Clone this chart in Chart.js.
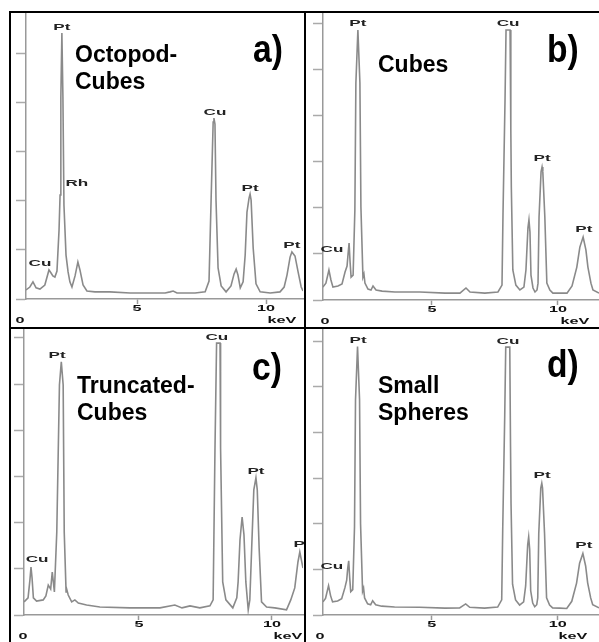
<!DOCTYPE html>
<html>
<head>
<meta charset="utf-8">
<script src="https://cdn.jsdelivr.net/npm/chart.js@4.4.1/dist/chart.umd.min.js"></script>
<style>
  body { margin: 0; background: #fff; width: 599px; height: 642px; position: relative; overflow: hidden; }
  canvas { position: absolute; }
  .rule { position: absolute; background: #000; }
</style>
</head>
<body>
<div class="rule" style="left:9px;top:11px;width:590px;height:2px"></div>
<div class="rule" style="left:9px;top:11px;width:2px;height:631px"></div>
<div class="rule" style="left:304px;top:11px;width:2px;height:631px"></div>
<div class="rule" style="left:9px;top:327px;width:590px;height:2px"></div>
<canvas id="chartA" width="293" height="314" style="left:11px;top:13px"></canvas>
<canvas id="chartB" width="293" height="314" style="left:306px;top:13px"></canvas>
<canvas id="chartC" width="293" height="313" style="left:11px;top:329px"></canvas>
<canvas id="chartD" width="293" height="313" style="left:306px;top:329px"></canvas>
<script>
// spectra: energy in keV, counts in arbitrary units (0-100 = axis height)
const energyA = [0.70,0.85,0.97,1.09,1.24,1.43,1.59,1.67,1.74,1.82,1.90,1.98,2.02,2.05,2.09,2.13,2.17,2.25,2.33,2.40,2.48,2.60,2.71,2.79,2.91,3.06,3.37,3.95,4.73,5.50,6.09,6.28,6.40,6.55,7.25,7.64,7.79,7.87,7.95,7.98,8.02,8.06,8.14,8.26,8.45,8.64,8.76,8.84,8.91,9.00,9.11,9.19,9.26,9.34,9.38,9.42,9.50,9.61,9.77,10.16,10.54,10.70,10.81,10.93,11.00,11.12,11.24,11.36,11.43];
const countsA = [3.2,4.2,6.0,3.9,3.5,4.9,10.2,9.1,8.1,7.7,9.8,24.2,36.5,70.9,93.3,70.9,33.0,15.4,9.5,6.0,4.2,8.1,13.0,10.2,4.9,2.8,2.5,2.5,2.1,2.1,2.1,2.5,2.8,2.1,2.1,2.5,6.3,34.7,62.1,63.5,61.4,34.7,10.9,4.6,2.5,4.6,8.8,10.5,8.4,3.9,6.0,15.4,30.5,35.4,36.8,34.7,17.9,5.3,2.5,2.1,2.5,4.2,8.4,14.7,16.5,15.1,9.5,4.2,2.8];

const energyB = [0.67,0.79,0.91,0.99,1.07,1.27,1.43,1.55,1.63,1.67,1.71,1.75,1.79,1.87,1.94,1.98,2.06,2.14,2.18,2.26,2.30,2.34,2.46,2.58,2.66,2.78,3.02,3.53,4.52,5.52,6.11,6.35,6.51,7.10,7.62,7.78,7.82,7.90,7.94,8.10,8.13,8.15,8.21,8.33,8.49,8.65,8.73,8.81,8.85,8.89,8.93,9.01,9.09,9.17,9.21,9.25,9.33,9.37,9.40,9.48,9.56,9.68,9.80,10.08,10.36,10.56,10.75,10.87,11.00,11.11,11.19,11.31,11.39,11.63];
const countsB = [4.5,5.9,10.5,7.0,4.5,4.9,5.6,9.8,11.9,16.1,19.9,13.3,8.0,8.7,31.5,75.9,94.4,75.9,32.5,8.0,9.1,5.9,3.8,3.5,4.9,3.5,3.1,2.8,2.8,2.4,2.4,4.2,2.8,2.4,2.8,5.2,30.4,69.9,94.4,94.4,59.4,39.5,10.5,5.2,3.5,4.5,10.5,25.2,28.0,23.8,8.7,4.2,2.8,3.5,5.9,29.0,44.8,46.5,44.8,29.0,5.9,3.5,2.4,2.4,2.4,4.9,11.5,18.5,22.0,17.5,11.5,5.9,3.5,2.4];

const energyC = [0.68,0.83,0.90,0.94,0.98,1.03,1.15,1.40,1.50,1.59,1.68,1.74,1.82,1.91,2.01,2.08,2.15,2.19,2.26,2.29,2.34,2.47,2.59,2.72,3.03,3.53,4.66,5.79,6.35,6.62,6.92,7.29,7.67,7.79,7.86,7.92,8.05,8.07,8.15,8.27,8.53,8.68,8.73,8.80,8.88,8.95,9.02,9.11,9.17,9.24,9.32,9.40,9.45,9.52,9.61,9.80,10.11,10.55,10.71,10.86,10.98,11.05,11.17];
const countsC = [4.6,6.0,12.3,16.8,13.0,6.0,4.9,5.3,6.7,10.5,9.1,15.1,8.1,29.1,80.7,88.8,80.7,29.1,8.1,8.8,7.0,4.6,5.3,4.2,3.5,2.8,2.5,2.5,3.5,2.5,3.2,2.5,3.2,5.3,58.6,95.4,95.4,58.6,11.6,5.3,2.5,6.0,11.6,26.3,34.4,28.1,11.6,1.8,5.3,23.5,43.9,48.1,43.9,23.5,4.6,2.8,2.5,1.8,5.3,9.5,18.6,22.1,16.5];

const energyD = [0.69,0.79,0.91,0.99,1.07,1.27,1.43,1.56,1.63,1.67,1.71,1.75,1.79,1.87,1.94,1.98,2.06,2.14,2.18,2.26,2.30,2.34,2.46,2.58,2.66,2.78,3.02,3.53,4.52,5.52,6.11,6.35,6.51,7.10,7.62,7.78,7.82,7.90,7.94,8.10,8.13,8.15,8.21,8.33,8.49,8.65,8.73,8.81,8.85,8.89,8.93,9.01,9.09,9.17,9.21,9.25,9.33,9.37,9.40,9.48,9.56,9.68,9.80,10.08,10.36,10.56,10.75,10.87,11.00,11.11,11.19,11.31,11.39,11.64];
const countsD = [4.6,5.8,10.3,6.8,4.6,4.9,5.7,9.6,12.2,16.3,19.0,13.0,8.2,8.9,31.0,75.5,94.2,75.5,32.0,8.3,9.4,6.0,3.9,3.6,5.0,3.6,3.1,2.8,2.7,2.4,2.5,3.9,2.7,2.4,2.8,5.3,30.0,70.0,94.0,94.0,59.0,39.0,10.8,5.3,3.5,4.6,10.2,24.5,27.4,23.0,8.5,4.2,2.9,3.6,6.0,28.5,44.5,46.2,44.5,28.5,6.0,3.5,2.5,2.4,2.3,4.8,11.2,18.2,21.6,17.2,11.3,6.0,3.6,2.5];

// peak labels: [element, keV, height]
const peaksA = [['Pt', 2.09, 95.4], ['Rh', 2.67, 40.4], ['Cu', 1.24, 12.6], ['Cu', 8.02, 65.6], ['Pt', 9.38, 38.9], ['Pt', 11.0, 18.9]];
const peaksB = [['Pt', 2.06, 96.5], ['Cu', 8.02, 96.5], ['Pt', 9.37, 49.3], ['Pt', 11.03, 24.5], ['Cu', 1.03, 17.8]];
const peaksC = [['Pt', 1.92, 91.2], ['Cu', 7.93, 97.2], ['Pt', 9.40, 50.2], ['Pt', 11.13, 24.6], ['Cu', 1.17, 19.3]];
const peaksD = [['Pt', 2.08, 96.2], ['Cu', 8.03, 95.8], ['Pt', 9.38, 48.8], ['Pt', 11.04, 24.4], ['Cu', 1.04, 17.1]];

const titleA = ['Octopod-', 'Cubes'];
const titleB = ['Cubes'];
const titleC = ['Truncated-', 'Cubes'];
const titleD = ['Small', 'Spheres'];

const xTickValues = [5, 10];

const panels = [
    { id: 'chartA', energy: energyA, counts: countsA, peaks: peaksA, title: titleA, tag: 'a)',
      xMin: 0.70, xMax: 11.43, yStep: 17.2, area: { l: 15, r: 292, t: 1, b: 286 },
      titleX: 64, titleY: 49, tagX: 242, tagY: 49, zeroDx: -6, kevDx: -21 },
    { id: 'chartB', energy: energyB, counts: countsB, peaks: peaksB, title: titleB, tag: 'b)',
      xMin: 0.675, xMax: 11.63, yStep: 16.1, area: { l: 17, r: 293, t: 1, b: 287 },
      titleX: 72, titleY: 59, tagX: 241, tagY: 49, zeroDx: 2, kevDx: -24 },
    { id: 'chartC', energy: energyC, counts: countsC, peaks: peaksC, title: titleC, tag: 'c)',
      xMin: 0.677, xMax: 11.17, yStep: 16.2, area: { l: 13, r: 292, t: 1, b: 286 },
      titleX: 66, titleY: 64, tagX: 241, tagY: 51, zeroDx: -1, kevDx: -15 },
    { id: 'chartD', energy: energyD, counts: countsD, peaks: peaksD, title: titleD, tag: 'd)',
      xMin: 0.69, xMax: 11.64, yStep: 16.0, area: { l: 17, r: 293, t: 1, b: 286 },
      titleX: 72, titleY: 64, tagX: 241, tagY: 48, zeroDx: -3, kevDx: -26 }
];

const FONT = '"Liberation Sans", Arial, sans-serif';

function wideText(ctx, str, x, y, sx) {
    ctx.save();
    ctx.translate(x, y);
    ctx.scale(sx, 1);
    ctx.fillText(str, 0, 0);
    ctx.restore();
}

function textPlugin(p) {
    return {
        id: 'panelText',
        afterDraw(chart) {
            const ctx = chart.ctx;
            const xs = chart.scales.x, ys = chart.scales.y;
            const area = chart.chartArea;
            ctx.save();
            // peak labels
            ctx.fillStyle = '#222';
            ctx.font = 'bold 9px ' + FONT;
            ctx.textAlign = 'center';
            ctx.textBaseline = 'middle';
            p.peaks.forEach(([name, e, h]) => {
                wideText(ctx, name, xs.getPixelForValue(e), ys.getPixelForValue(h), 1.9);
            });
            // axis text
            ctx.fillStyle = '#111';
            xTickValues.forEach(v => {
                wideText(ctx, String(v), xs.getPixelForValue(v), area.bottom + 10, 1.8);
            });
            wideText(ctx, '0', area.left + p.zeroDx, area.bottom + 22, 1.8);
            wideText(ctx, 'keV', area.right + p.kevDx, area.bottom + 22, 1.8);
            // sample name
            ctx.fillStyle = '#000';
            ctx.font = 'bold 23px ' + FONT;
            ctx.textAlign = 'left';
            ctx.textBaseline = 'alphabetic';
            p.title.forEach((line, i) => ctx.fillText(line, p.titleX, p.titleY + i * 26.5));
            // panel letter
            ctx.font = 'bold 32px ' + FONT;
            ctx.translate(p.tagX, p.tagY);
            ctx.scale(1.05, 1.2);
            ctx.fillText(p.tag, 0, 0);
            ctx.restore();
        }
    };
}

panels.forEach(p => {
    const canvas = document.getElementById(p.id);
    const W = canvas.width, H = canvas.height;
    new Chart(canvas.getContext('2d'), {
        type: 'line',
        data: {
            datasets: [{
                data: p.energy.map((e, i) => ({ x: e, y: p.counts[i] })),
                borderColor: '#8a8a8a',
                borderWidth: 1.6,
                pointRadius: 0,
                tension: 0,
                fill: false
            }]
        },
        options: {
            responsive: false,
            animation: false,
            devicePixelRatio: 1,
            layout: { padding: { left: 0, top: p.area.t, right: W - p.area.r, bottom: 0 } },
            plugins: { legend: { display: false }, tooltip: { enabled: false } },
            scales: {
                x: {
                    type: 'linear',
                    min: p.xMin,
                    max: p.xMax,
                    afterBuildTicks: s => { s.ticks = xTickValues.map(v => ({ value: v })); },
                    afterFit: s => { s.height = H - p.area.b; },
                    ticks: { display: false },
                    grid: { drawOnChartArea: false, drawTicks: true, tickLength: 5, color: '#999', tickWidth: 1.5 },
                    border: { display: true, color: '#999', width: 1.5 }
                },
                y: {
                    min: 0,
                    max: 100,
                    afterBuildTicks: s => {
                        const t = [];
                        for (let v = 0; v <= 100; v += p.yStep) t.push({ value: v });
                        s.ticks = t;
                    },
                    afterFit: s => { s.width = p.area.l; },
                    ticks: { display: false },
                    grid: { drawOnChartArea: false, drawTicks: true, tickLength: 10, color: '#aaa', tickWidth: 1.5 },
                    border: { display: true, color: '#999', width: 1.5 }
                }
            }
        },
        plugins: [textPlugin(p)]
    });
});
</script>
</body>
</html>
